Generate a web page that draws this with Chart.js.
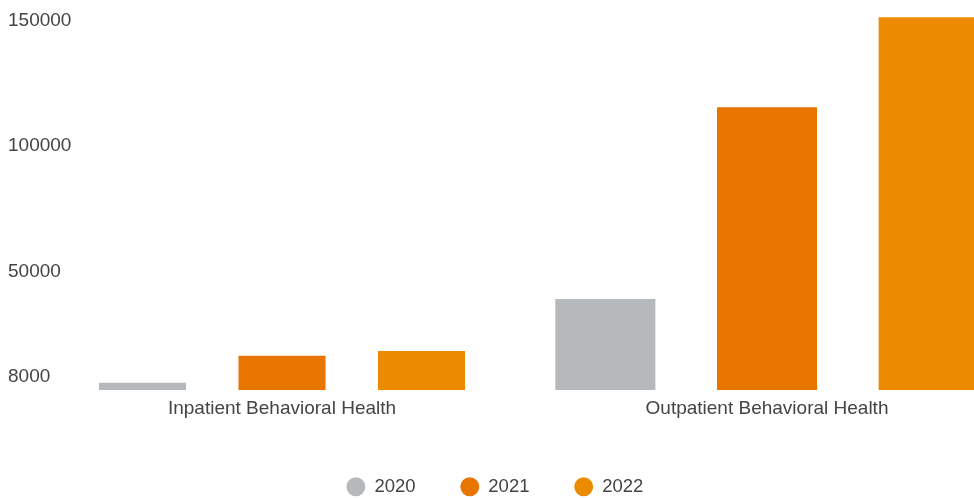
<!DOCTYPE html>
<html>
<head>
<meta charset="utf-8">
<title>Behavioral Health</title>
<script src="https://cdn.jsdelivr.net/npm/chart.js@4.4.1/dist/chart.umd.min.js"></script>
<style>
  html, body { margin: 0; padding: 0; background: #fff; overflow: hidden; }
  /* the chart box is a bit larger than the page and gets cut at the right and bottom */
  #wrap { position: relative; width: 982px; height: 506px; }
</style>
</head>
<body>
<div id="wrap"><canvas id="bhChart"></canvas></div>
<script>
// DATA
const categories = ["Inpatient Behavioral Health", "Outpatient Behavioral Health"];
const years = ["2020", "2021", "2022"];
const visits2020 = [5600, 39000];
const visits2021 = [16400, 115600];
const visits2022 = [18250, 151500];
const yTicks = [8000, 50000, 100000, 150000];

// STYLE
const yearColors = ["#b5b9bc", "#e87500", "#ed8b00"];
const textColor = "#444444";
// the outpatient group is spread wider than the inpatient one
const groupSpacing = [
  { categoryPercentage: 0.863, barPercentage: 0.624 },
  { categoryPercentage: 1.0, barPercentage: 0.619 },
];

function setupChart() {
  const canvas = document.querySelector("#bhChart");
  if (!canvas) return;

  Chart.defaults.font.family = "'Liberation Sans', Arial, sans-serif";
  Chart.defaults.color = textColor;

  const series = [visits2020, visits2021, visits2022];

  // one dataset per group and year so each group keeps its own bar spacing
  const datasets = [];
  categories.forEach((cat, g) => {
    series.forEach((values, y) => {
      datasets.push({
        label: years[y],
        data: values.map((v, i) => (i === g ? v : null)),
        backgroundColor: yearColors[y],
        borderWidth: 0,
        skipNull: true,
        ...groupSpacing[g],
      });
    });
  });

  new Chart(canvas, {
    type: "bar",
    data: {
      labels: categories.map((c, i) => i),
      datasets,
    },
    options: {
      responsive: true,
      maintainAspectRatio: false,
      animation: false,
      layout: { padding: { top: 16, left: 8, right: 0, bottom: 0 } },
      plugins: {
        tooltip: { enabled: true },
        legend: {
          position: "bottom",
          labels: {
            usePointStyle: true,
            pointStyle: "circle",
            boxHeight: 13.4,
            padding: 45,
            color: textColor,
            font: { size: 18.5 },
            // same year appears twice, list it once
            filter: (item, data) =>
              data.datasets.findIndex((d) => d.label === item.text) === item.datasetIndex,
          },
          onClick: (e, item, legend) => {
            const chart = legend.chart;
            chart.data.datasets.forEach((d, i) => {
              if (d.label === item.text) {
                chart.setDatasetVisibility(i, !chart.isDatasetVisible(i));
              }
            });
            chart.update();
          },
        },
      },
      scales: {
        x: {
          type: "linear",
          bounds: "data",
          offset: false,
          min: -0.4289,
          max: 1.4433,
          grid: { display: false, drawTicks: false },
          border: { display: false },
          afterBuildTicks: (scale) => {
            scale.ticks = categories.map((c, i) => ({ value: i }));
          },
          afterFit: (scale) => {
            scale.height = 42.5;
          },
          ticks: {
            autoSkip: false,
            maxRotation: 0,
            padding: 7.6,
            color: textColor,
            font: { size: 19 },
            callback: (v) => categories[v],
          },
        },
        y: {
          type: "linear",
          bounds: "data",
          min: 2700,
          max: 152000,
          grid: { display: false, drawTicks: false },
          border: { display: false },
          afterBuildTicks: (scale) => {
            scale.ticks = yTicks.map((v) => ({ value: v }));
          },
          afterFit: (scale) => {
            scale.width = 66;
          },
          ticks: {
            crossAlign: "far",
            color: textColor,
            font: { size: 19 },
            callback: (v) => String(v),
          },
        },
      },
    },
  });
}

// INIT
document.addEventListener("DOMContentLoaded", () => {
  setupChart();
});
</script>
</body>
</html>
